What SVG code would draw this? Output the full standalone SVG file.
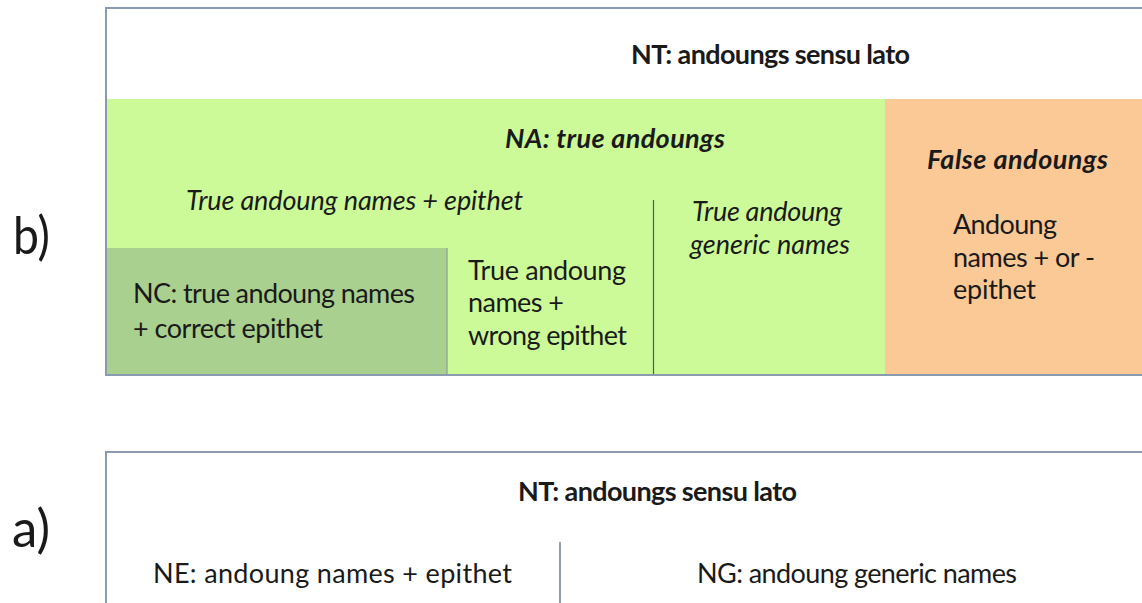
<svg xmlns="http://www.w3.org/2000/svg" width="1142" height="603" viewBox="0 0 1142 603">
<style>
.t{font-family:Lato,"Open Sans","Liberation Sans",sans-serif;font-size:27px;fill:#1a1a1a}
.b{font-weight:bold}
.i{font-style:italic}
.lab{font-family:Lato,"Open Sans","Liberation Sans",sans-serif;font-size:52px;fill:#1a1a1a}
.frame{fill:#ffffff;stroke:#8a9bb0;stroke-width:2}
.div{stroke:#4a5a70;stroke-width:1.2;fill:none}
</style>
<rect width="1142" height="603" fill="#ffffff"/>

<g id="label-b"><text class="lab" x="13" y="254" textLength="37" lengthAdjust="spacingAndGlyphs">b)</text></g>
<g id="label-a"><text class="lab" x="12" y="547" textLength="38" lengthAdjust="spacingAndGlyphs">a)</text></g>

<g id="box-b">
  <rect class="frame" x="106" y="8" width="1050" height="367"/>
  <text class="t b" x="631" y="64" textLength="279">NT: andoungs sensu lato</text>
</g>

<g id="na-true">
  <rect x="107" y="99" width="778" height="275" fill="#ccfa98"/>
  <text class="t b i" x="505" y="148" textLength="220">NA: true andoungs</text>
  <text class="t i" x="186" y="210" textLength="337">True andoung names + epithet</text>
</g>

<g id="nc-correct">
  <rect x="107" y="248" width="340" height="126" fill="#a9d08e"/>
  <line x1="447" y1="248" x2="447" y2="374" stroke="#8c9c8c" stroke-width="1.2"/>
  <text class="t" x="133" y="303" textLength="282">NC: true andoung names</text>
  <text class="t" x="133" y="338" textLength="190">+ correct epithet</text>
</g>

<g id="wrong-epithet">
  <text class="t" x="468" y="280" textLength="158">True andoung</text>
  <text class="t" x="468" y="312" textLength="96">names +</text>
  <text class="t" x="468" y="345" textLength="159">wrong epithet</text>
</g>

<g id="generic-true">
  <text class="t i" x="692" y="221" textLength="150">True andoung</text>
  <text class="t i" x="690" y="254" textLength="160">generic names</text>
</g>

<g id="false-andoungs">
  <rect x="885" y="99" width="257" height="275" fill="#fbc995"/>
  <text class="t b i" x="927" y="169" textLength="181">False andoungs</text>
  <text class="t" x="953" y="234" textLength="104">Andoung</text>
  <text class="t" x="953" y="267" textLength="142">names + or -</text>
  <text class="t" x="953" y="299" textLength="83">epithet</text>
</g>

<g id="box-a">
  <rect class="frame" x="106" y="452" width="1050" height="170"/>
  <text class="t b" x="518" y="501" textLength="279">NT: andoungs sensu lato</text>
</g>
<g id="ne-epithet"><text class="t" x="153" y="583" textLength="359">NE: andoung names + epithet</text></g>
<g id="ng-generic"><text class="t" x="697" y="583" textLength="320">NG: andoung generic names</text></g>

<g id="connectors">
  <line class="div" x1="653.5" y1="200" x2="653.5" y2="374"/>
  <line class="div" x1="560" y1="542" x2="560" y2="603"/>
</g>
</svg>
